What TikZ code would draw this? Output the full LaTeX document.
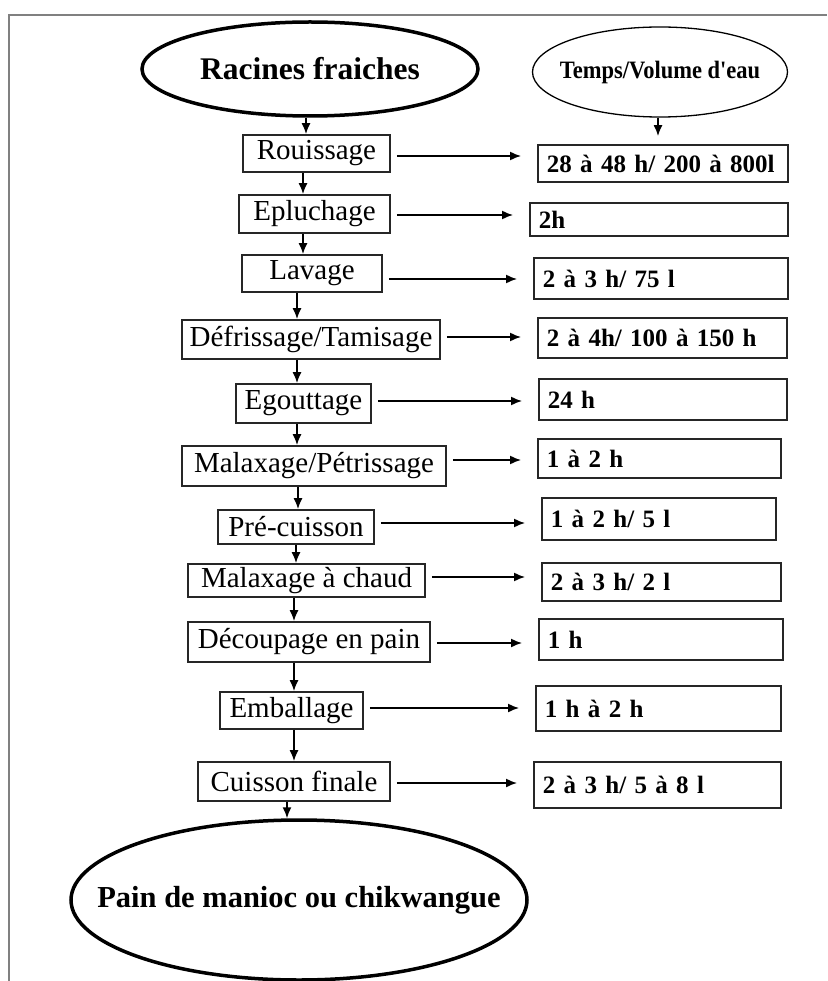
\documentclass[tikz,border=0pt]{standalone}
\usepackage{fontspec}
\usepackage{graphicx}
\setmainfont{Liberation Serif}
\usetikzlibrary{shapes.geometric,arrows.meta}
\newcommand{\etiq}[1]{\makebox[0pt]{#1}}
\tikzset{
  etape/.style={draw=black!85, line width=1.8pt, inner sep=3pt, font=\fontsize{29}{32}\selectfont},
  duree/.style={draw=black!85, line width=1.8pt, anchor=west, align=left, inner xsep=9pt, font=\bfseries\fontsize{25}{28}\selectfont},
  bout/.style={ellipse, draw=black, inner sep=0pt},
  fleche/.style={-{Latex[length=11pt,width=9pt]}, line width=1.5pt}
}

\begin{document}
\begin{tikzpicture}[x=1pt, y=-1pt]
\useasboundingbox (0,0) rectangle (827,981);
\draw[gray, line width=1.8pt] (827,15) -- (9,15) -- (9,981);

\node[bout, line width=3.5pt, minimum width=336, minimum height=94, font=\bfseries\fontsize{31.5}{34}\selectfont] (rac) at (310,69) {\etiq{Racines fraiches}};
\node[bout, line width=1.3pt, minimum width=255, minimum height=90, font=\bfseries\fontsize{25}{28}\selectfont] (tps) at (660,72) {\etiq{\scalebox{0.9}[1]{Temps/Volume d\textquotesingle eau}}};

\node[etape, minimum width=147, minimum height=37] (rou) at (316.5,153.5) {Rouissage};
\node[etape, minimum width=151, minimum height=38] (epl) at (314.5,214) {Epluchage};
\node[etape, minimum width=140, minimum height=37] (lav) at (312,273.5) {Lavage};
\node[etape, minimum width=258, minimum height=39] (def) at (311,339.5) {Défrissage/Tamisage};
\node[etape, minimum width=135, minimum height=39] (ego) at (303.5,403.5) {Egouttage};
\node[etape, minimum width=264, minimum height=40] (mal) at (314,466) {Malaxage/Pétrissage};
\node[etape, minimum width=156, minimum height=34] (pre) at (296,527) {Pré-cuisson};
\node[etape, minimum width=237, minimum height=33] (mac) at (306.5,580.5) {Malaxage à chaud};
\node[etape, minimum width=242, minimum height=40] (dec) at (309,642) {Découpage en pain};
\node[etape, minimum width=143, minimum height=37] (emb) at (291.5,710.5) {Emballage};
\node[etape, minimum width=192, minimum height=39] (cui) at (294,781.5) {Cuisson finale};

\node[bout, line width=3.5pt, minimum width=456, minimum height=160, font=\bfseries\fontsize{30.5}{34}\selectfont] (pain) at (299,900) {\etiq{Pain de manioc ou chikwangue}};

\node[duree, text width=232, minimum height=37] (d1) at (537,163.5) {\mbox{28 à 48 h/ 200 à 800l}};
\node[duree, text width=240, minimum height=33] (d2) at (529,219.5) {2h};
\node[duree, text width=236, minimum height=41] (d3) at (533,278.5) {2 à 3 h/ 75 l};
\node[duree, text width=231, minimum height=40] (d4) at (537,338) {2 à 4h/ 100 à 150 h};
\node[duree, text width=230, minimum height=41] (d5) at (538,399.5) {24 h};
\node[duree, text width=225, minimum height=39] (d6) at (537,458.5) {1 à 2 h};
\node[duree, text width=216, minimum height=42] (d7) at (541,519) {1 à 2 h/ 5 l};
\node[duree, text width=221, minimum height=38] (d8) at (541,582) {2 à 3 h/ 2 l};
\node[duree, text width=226, minimum height=41] (d9) at (538,639.5) {1 h};
\node[duree, text width=227, minimum height=45] (d10) at (535,708.5) {1 h à 2 h};
\node[duree, text width=229, minimum height=46] (d11) at (533,785) {2 à 3 h/ 5 à 8 l};

\foreach \a/\b/\x in {rac/rou/306, rou/epl/303, epl/lav/303, lav/def/297, def/ego/297, ego/mal/297, mal/pre/298, pre/mac/296, mac/dec/294, dec/emb/294, emb/cui/294, cui/pain/287}
  \draw[fleche] (\a.south -| \x,0) -- (\b.north -| \x,0);
\draw[fleche, shorten >=8pt] (tps.south -| 658,0) -- (d1.north -| 658,0);

\foreach \a/\b/\y in {rou/d1/156, epl/d2/215, lav/d3/279, def/d4/337, ego/d5/401, mal/d6/460, pre/d7/523, mac/d8/577, dec/d9/643, emb/d10/708, cui/d11/783}
  \draw[fleche, shorten <=6pt, shorten >=16pt] (\a.east |- 0,\y) -- (\b.west |- 0,\y);
\end{tikzpicture}
\end{document}
